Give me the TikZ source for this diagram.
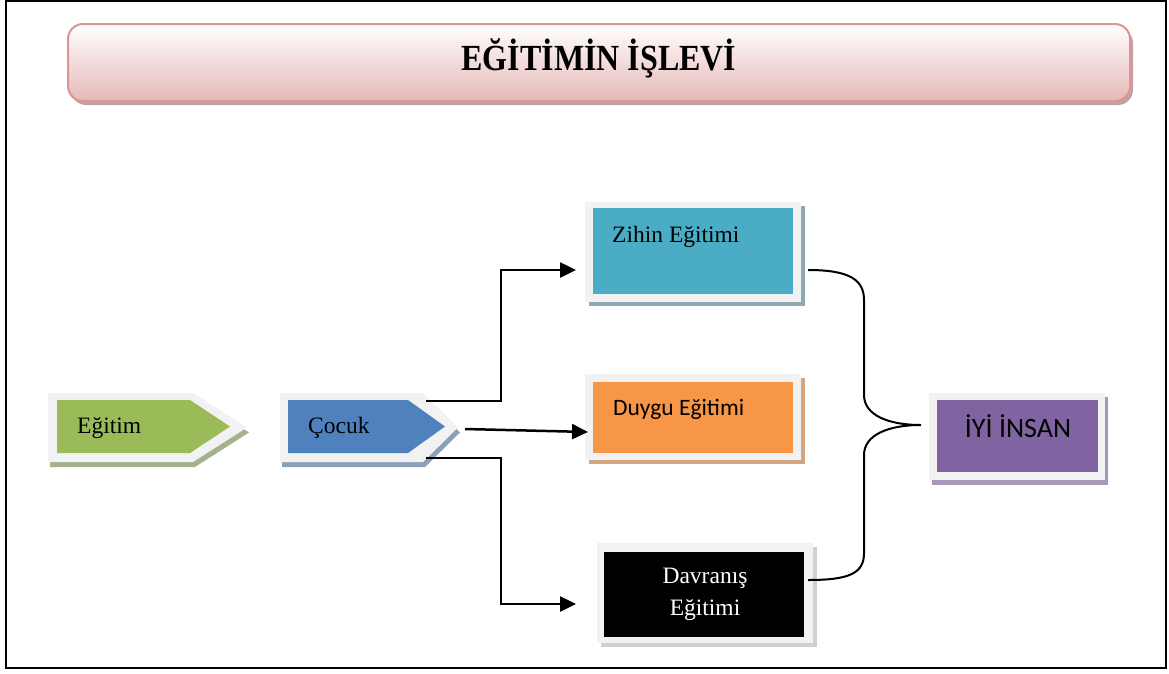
\documentclass[tikz,border=0pt]{standalone}
\usepackage{fontspec}
\setmainfont{Liberation Serif}
\newfontfamily\calibri{Carlito}
\usetikzlibrary{arrows.meta,calc}
\definecolor{outergray}{HTML}{F2F2F2}
\definecolor{egfill}{HTML}{9BBB59}
\definecolor{egshadow}{HTML}{A3B28A}
\definecolor{cocfill}{HTML}{4F81BD}
\definecolor{cocshadow}{HTML}{8C9FBB}
\definecolor{zihfill}{HTML}{4BACC6}
\definecolor{zihshadow}{HTML}{8FA9B2}
\definecolor{duyfill}{HTML}{F79646}
\definecolor{duyshadow}{HTML}{D4A680}
\definecolor{davshadow}{HTML}{D0D0D0}
\definecolor{iyifill}{HTML}{8064A2}
\definecolor{iyishadow}{HTML}{A698B6}
\definecolor{titleborder}{HTML}{D99694}
\definecolor{titlebottom}{HTML}{E6B8B7}
\definecolor{titleshadow}{HTML}{BFA3A3}
\tikzset{
  innerbox/.style={rectangle, inner sep=0pt, outer sep=0pt},
  lbl/.style={inner sep=0pt, font=\fontsize{23.5}{28}\selectfont},
  arr/.style={line width=2.5pt, -{Triangle[length=16pt,width=15pt]}},
  bracestyle/.style={line width=2pt}
}
\begin{document}
\begin{tikzpicture}[x=1pt,y=-1pt]
\useasboundingbox (0,0) rectangle (1169,673);
% frame
\draw[line width=2pt] (6,1) rectangle (1166,668);

% title
\fill[titleshadow, rounded corners=15pt] (71,28) rectangle (1133,105);
\shade[top color=white, bottom color=titlebottom, draw=titleborder, line width=2pt, rounded corners=15pt] (68,24) rectangle (1130,101);
\node[inner sep=0pt, font=\bfseries\fontsize{32}{38}\selectfont, yscale=1.15] (title) at (599,58) {EĞİTİMİN İŞLEVİ};

% Egitim
\fill[egshadow] (50,398) -- (195,398) -- (249,432.5) -- (195,467) -- (50,467) -- cycle;
\fill[outergray] (48,393) -- (193,393) -- (247,427.5) -- (193,462) -- (48,462) -- cycle;
\fill[egfill] (57,400) -- (190,400) -- (230,426.5) -- (190,453) -- (57,453) -- cycle;
\node[lbl, anchor=base west] (egitim) at (77,433) {Eğitim};

% Cocuk
\fill[cocshadow] (282,398) -- (425,398) -- (460,432.5) -- (425,467) -- (282,467) -- cycle;
\fill[outergray] (280,393) -- (423,393) -- (458,427.5) -- (423,462) -- (280,462) -- cycle;
\fill[cocfill] (288,400) -- (408,400) -- (445,426.5) -- (408,453) -- (288,453) -- cycle;
\node[lbl, anchor=base west] (cocuk) at (308,433) {Çocuk};
\coordinate (cocukTop) at (426,401);
\coordinate (cocukMid) at (465,429);
\coordinate (cocukBot) at (426,458);

% Zihin
\fill[zihshadow] (589,206) rectangle (805,306);
\fill[outergray] (585,202) rectangle (801,302);
\node[innerbox, fill=zihfill, minimum width=200pt, minimum height=86pt] (zihin) at (693,251) {};
\node[lbl, anchor=base west] (zihintext) at (612,242) {Zihin Eğitimi};

% Duygu
\fill[duyshadow] (589,378) rectangle (805,464);
\fill[outergray] (585,374) rectangle (801,460);
\node[innerbox, fill=duyfill, minimum width=200pt, minimum height=71pt] (duygu) at (693,417.5) {};
\node[lbl, font=\calibri\fontsize{23.5}{28}\selectfont, anchor=base west] (duygutext) at (613,415) {Duygu Eğitimi};

% Davranis
\fill[davshadow] (601,547) rectangle (817,647);
\fill[outergray] (597,543) rectangle (813,643);
\node[innerbox, fill=black, minimum width=200pt, minimum height=85pt] (davr) at (704,594.5) {};
\node[lbl, text=white, anchor=base] (davr1) at (705,583) {Davranış};
\node[lbl, text=white, anchor=base] (davr2) at (705,615) {Eğitimi};

% IYI INSAN
\fill[iyishadow] (932,397) rectangle (1108,485);
\fill[outergray] (929,393) rectangle (1105,480);
\node[innerbox, fill=iyifill, minimum width=161pt, minimum height=72pt] (iyi) at (1017.5,436) {};
\node[inner sep=0pt, font=\calibri\fontsize{28}{34}\selectfont, anchor=base] (iyitext) at (1018,437) {İYİ İNSAN};

% arrows
\draw[arr] (cocukTop) -- (501,401) |- ($(zihin.west)+(-17,19)$);
\draw[arr] (cocukMid) -- ($(duygu.west)+(-5,14.5)$);
\draw[arr] (cocukBot) -- (501,458) |- ($(davr.west)+(-28,9.5)$);

% brace
\coordinate (bTop) at ($(zihin.east)+(15,19)$);
\coordinate (bTip) at ($(iyi.west)+(-16,-11)$);
\coordinate (bBot) at ($(davr.east)+(4,-14.5)$);
\draw[bracestyle] (bTop) .. controls (850,270) and (864,280) .. (864,300)
  -- (864,395) .. controls (864,415) and (888,425) .. (bTip)
  .. controls (888,425) and (864,435) .. (864,455)
  -- (864,553) .. controls (864,573) and (850,580) .. (bBot);
\end{tikzpicture}
\end{document}
